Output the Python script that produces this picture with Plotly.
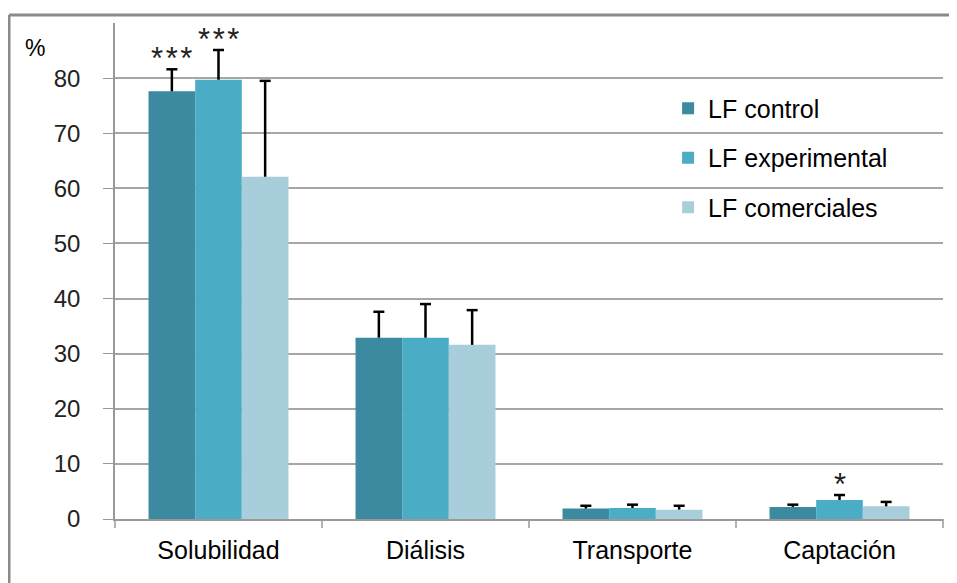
import plotly.graph_objects as go

categories = ["Solubilidad", "Diálisis", "Transporte", "Captación"]
series_names = ["LF control", "LF experimental", "LF comerciales"]
control = [77.6, 32.9, 1.9, 2.2]
experimental = [79.7, 32.9, 2.0, 3.45]
comerciales = [62.1, 31.6, 1.7, 2.3]
control_err = [4.0, 4.7, 0.5, 0.4]
experimental_err = [5.4, 6.1, 0.6, 0.9]
comerciales_err = [17.4, 6.3, 0.7, 0.8]
y_ticks = [0, 10, 20, 30, 40, 50, 60, 70, 80]
# significance marks: (category index, series index, text)
marks = [(0, 0, "*\u200a*\u200a*"), (0, 1, "*\u200a*\u200a*"), (3, 1, "*")]

colors = ["#3B8AA0", "#4BACC6", "#A8CEDC"]
values = [control, experimental, comerciales]
errors = [control_err, experimental_err, comerciales_err]

BARGAP = 0.324
bar_frac = (1 - BARGAP) / len(series_names)   # bar width as fraction of category band
cat_px = 828 / len(categories)
cap_frac = 5.5 / cat_px
FONT = "Liberation Sans, Arial"

fig = go.Figure()
for i, name in enumerate(series_names):
    fig.add_trace(go.Bar(
        x=categories, y=values[i], name=name,
        marker=dict(color=colors[i], line=dict(width=0)),
        legendgroup=name,
    ))

# one-sided (upper) error bars with a cap only at the top
for i in range(len(series_names)):
    shift = (i - 1) * bar_frac
    for ci, cat in enumerate(categories):
        v = values[i][ci]
        top = v + errors[i][ci]
        fig.add_shape(type="line", xref="x", yref="y", x0=cat, x1=cat,
                      x0shift=shift, x1shift=shift, y0=v, y1=top,
                      line=dict(color="black", width=2.5), layer="above")
        fig.add_shape(type="line", xref="x", yref="y", x0=cat, x1=cat,
                      x0shift=shift - cap_frac, x1shift=shift + cap_frac, y0=top, y1=top,
                      line=dict(color="black", width=2.5), layer="above")

for ci, si, txt in marks:
    top = values[si][ci] + errors[si][ci]
    fig.add_annotation(x=categories[ci], y=top, xref="x", yref="y",
                       text=txt, showarrow=False, yanchor="bottom",
                       xshift=(si - 1) * bar_frac * cat_px, yshift=-9,
                       font=dict(family=FONT, size=31, color="#222"))

fig.add_annotation(x=-0.111, y=0.95, xref="paper", yref="paper", text="%",
                   showarrow=False, xanchor="left", yanchor="middle",
                   font=dict(family=FONT, size=23, color="black"))

# outer frame
fig.add_shape(type="line", xref="paper", yref="paper", x0=-0.128, x1=1.2, y0=1.016, y1=1.016,
              line=dict(color="#8a8a8a", width=3))
fig.add_shape(type="line", xref="paper", yref="paper", x0=-0.128, x1=-0.128, y0=1.016, y1=-0.3,
              line=dict(color="#8a8a8a", width=3))

fig.update_layout(
    width=957, height=583,
    margin=dict(l=107, r=22, t=15, b=72),
    paper_bgcolor="white", plot_bgcolor="white",
    barmode="group", bargap=BARGAP, bargroupgap=0,
    font=dict(family=FONT, color="black"),
    showlegend=True,
    legend=dict(x=0.668, y=0.874, xanchor="left", yanchor="top",
                bgcolor="rgba(0,0,0,0)", font=dict(size=25, color="black"),
                traceorder="grouped", tracegroupgap=14, itemwidth=30),
    xaxis=dict(showline=True, linecolor="#999", linewidth=1.5, ticks="",
               tickfont=dict(size=25, color="black"), showgrid=False,
               ticklabelstandoff=8),
    yaxis=dict(range=[0, 90], tickvals=y_ticks, showgrid=True, gridcolor="#a6a6a6",
               gridwidth=1.5, showline=True, linecolor="#999", linewidth=1.5,
               ticks="outside", ticklen=10, tickcolor="#999", zeroline=False,
               tickfont=dict(size=24, color="#222"), ticklabelstandoff=18),
)

# category boundary ticks on the x axis
for k in range(len(categories) + 1):
    fig.add_shape(type="line", xref="paper", yref="paper", x0=k / len(categories), x1=k / len(categories),
                  y0=0, y1=-0.018, line=dict(color="#999", width=1.5))

fig.write_html("out.html")
